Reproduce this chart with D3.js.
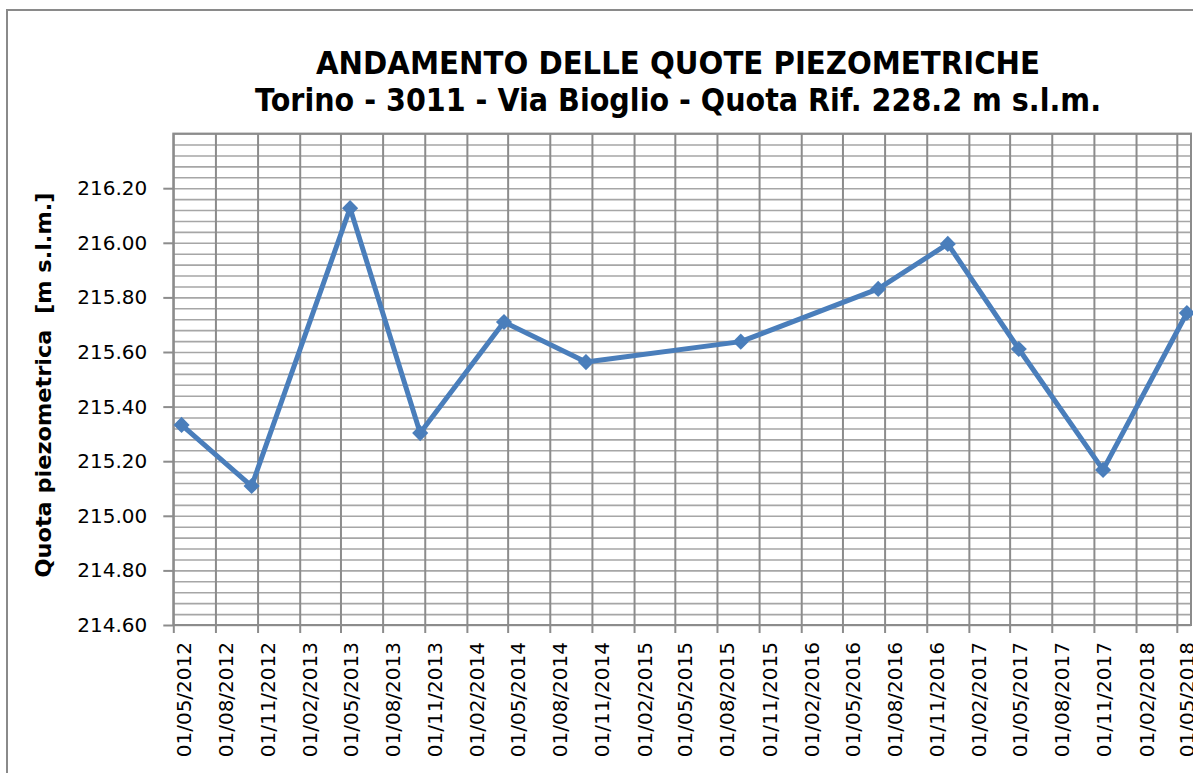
<!DOCTYPE html>
<meta charset="utf-8">
<head>
  <style>
    body { margin: 0; background: #fff; }
    text { font-family: "DejaVu Sans", Verdana, sans-serif; fill: #000; }
    .title { font-weight: bold; font-size: 32px; }
    .axis-title { font-weight: bold; font-size: 21px; white-space: pre; }
  </style>
  <script src="https://cdn.jsdelivr.net/npm/d3@7"></script>
</head>
<body>
<div id="viz"></div>
<script>
// measured dates (dd/mm/yyyy) and piezometric levels [m s.l.m.]
var dates = ["19/05/2012", "19/10/2012", "22/05/2013", "22/10/2013", "23/04/2014", "19/10/2014",
             "22/09/2015", "18/07/2016", "17/12/2016", "21/05/2017", "21/11/2017", "23/05/2018"];
var levels = [215.333, 215.109, 216.127, 215.303, 215.710, 215.563,
              215.638, 215.831, 215.996, 215.611, 215.168, 215.743];
var yTicks = [214.60, 214.80, 215.00, 215.20, 215.40, 215.60, 215.80, 216.00, 216.20];
var titleLines = ["ANDAMENTO DELLE QUOTE PIEZOMETRICHE",
                  "Torino - 3011 - Via Bioglio - Quota Rif. 228.2 m s.l.m."];
var yLabel = "Quota piezometrica  [m s.l.m.]";

var W = 1193, H = 773;
var plotL = 173.3, plotR = 1191, plotT = 133.6, plotB = 625;

var parse = d3.timeParse("%d/%m/%Y");
var data = dates.map(function(d, i) { return {date: parse(d), value: levels[i]}; });

var svg = d3.select("#viz").append("svg")
  .attr("width", W).attr("height", H);

// outer chart frame
svg.append("rect")
  .attr("x", 7).attr("y", 10).attr("width", 1220).attr("height", 800)
  .attr("fill", "none").attr("stroke", "#8a8a8a").attr("stroke-width", 2);

var x = d3.scaleTime()
  .domain([parse("01/05/2012"), parse("01/06/2018")])
  .range([plotL, plotR]);
var y = d3.scaleLinear()
  .domain([214.6, 216.4])
  .range([plotB, plotT]);

var xTicks = d3.timeMonth.range(parse("01/05/2012"), parse("02/05/2018"), 3);
var minorY = d3.range(0, 46).map(function(i) { return 214.6 + i * 0.04; });

// horizontal grid (every 0.04)
svg.append("g")
  .attr("transform", "translate(" + plotL + ",0)")
  .call(d3.axisLeft(y).tickValues(minorY).tickSize(-(plotR - plotL)).tickFormat(""))
  .call(function(g) {
    g.select(".domain").remove();
    g.selectAll("line").attr("stroke", "#a6a6a6").attr("stroke-width", 1.6);
  });

// vertical grid (quarterly)
svg.append("g")
  .attr("transform", "translate(0," + plotB + ")")
  .call(d3.axisBottom(x).tickValues(xTicks).tickSize(-(plotB - plotT)).tickFormat(""))
  .call(function(g) {
    g.select(".domain").remove();
    g.selectAll("line").attr("stroke", "#8c8c8c").attr("stroke-width", 2);
  });

// plot border
svg.append("rect")
  .attr("x", plotL).attr("y", plotT).attr("width", plotR - plotL).attr("height", plotB - plotT)
  .attr("fill", "none").attr("stroke", "#8c8c8c").attr("stroke-width", 2);

// y axis
var yAxis = svg.append("g")
  .attr("transform", "translate(" + plotL + ",0)")
  .call(d3.axisLeft(y).tickValues(yTicks).tickSize(10).tickPadding(16).tickFormat(d3.format(".2f")));
yAxis.select(".domain").remove();
yAxis.selectAll("line").attr("stroke", "#8c8c8c").attr("stroke-width", 2);
yAxis.selectAll("text").attr("fill", "#000")
  .style("font-family", "'DejaVu Sans', Verdana, sans-serif").style("font-size", "20px");

// x axis
var xAxis = svg.append("g")
  .attr("transform", "translate(0," + plotB + ")")
  .call(d3.axisBottom(x).tickValues(xTicks).tickSize(8).tickFormat(d3.timeFormat("%d/%m/%Y")));
xAxis.select(".domain").remove();
xAxis.selectAll("line").attr("stroke", "#8c8c8c").attr("stroke-width", 2);
xAxis.selectAll("text")
  .attr("fill", "#000")
  .style("font-family", "'DejaVu Sans', Verdana, sans-serif").style("font-size", "20px")
  .attr("text-anchor", "end")
  .attr("x", 0).attr("y", 0).attr("dy", "0.85em")
  .attr("transform", "translate(0,17) rotate(-90)");

// series
var line = d3.line()
  .x(function(d) { return x(d.date); })
  .y(function(d) { return y(d.value); });

svg.append("path")
  .datum(data)
  .attr("d", line)
  .attr("fill", "none")
  .attr("stroke", "#4a7ebb")
  .attr("stroke-width", 5)
  .attr("stroke-linejoin", "round");

svg.selectAll(".marker")
  .data(data)
  .enter()
  .append("path")
    .attr("class", "marker")
    .attr("d", d3.symbol().type(d3.symbolSquare).size(130))
    .attr("transform", function(d) { return "translate(" + x(d.date) + "," + y(d.value) + ") rotate(45)"; })
    .attr("fill", "#4a7ebb");

// titles
svg.selectAll(".title")
  .data(titleLines)
  .enter()
  .append("text")
    .attr("class", "title")
    .attr("x", 678)
    .attr("y", function(d, i) { return 74 + i * 37; })
    .attr("text-anchor", "middle")
    .attr("textLength", function(d, i) { return i === 0 ? 724 : 846; })
    .attr("lengthAdjust", "spacingAndGlyphs")
    .text(function(d) { return d; });

svg.append("text")
  .attr("class", "axis-title")
  .attr("transform", "translate(51,385) rotate(-90)")
  .attr("text-anchor", "middle")
  .attr("textLength", 385)
  .attr("lengthAdjust", "spacingAndGlyphs")
  .text(yLabel);
</script>
</body>
